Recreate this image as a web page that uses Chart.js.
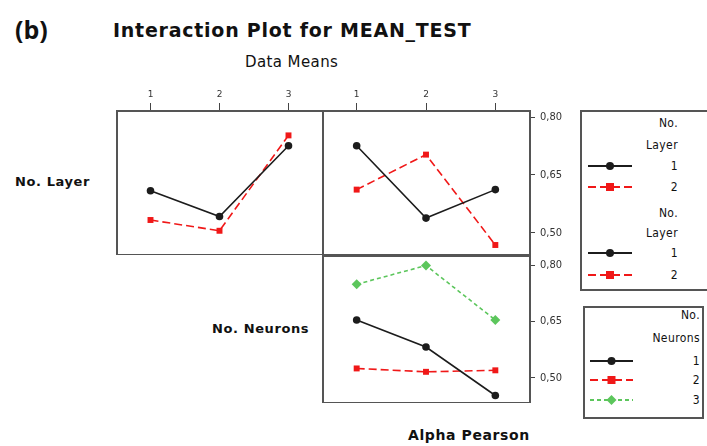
<!DOCTYPE html>
<html>
<head>
<meta charset="utf-8">
<script src="https://cdn.jsdelivr.net/npm/chart.js@4.4.1/dist/chart.umd.min.js"></script>
<style>
  html, body { margin: 0; padding: 0; background: #fff; }
  body { width: 707px; height: 446px; position: relative; overflow: hidden; font-family: "DejaVu Sans", sans-serif; color: #111; }
  .abs { position: absolute; white-space: nowrap; }
  .panel { position: absolute; }
  .lbl { font-weight: bold; font-size: 13px; line-height: 14px; letter-spacing: 0.6px; }
  .box { position: absolute; border: 2px solid #555; box-sizing: border-box; }
  .lg { position: absolute; font-size: 12px; line-height: 14px; text-align: right; letter-spacing: 0.4px; font-family: "DejaVu Sans Condensed", "DejaVu Sans"; }
</style>
</head>
<body>
<div class="abs" style="left:15px;top:13px;font-size:25px;font-weight:bold;font-family:'Open Sans';line-height:32px;">(b)</div>
<div class="abs" style="left:113px;top:17px;font-size:19px;font-weight:bold;letter-spacing:0.75px;line-height:26px;">Interaction Plot for MEAN_TEST</div>
<div class="abs" style="left:245px;top:53px;font-size:15px;letter-spacing:0.4px;line-height:18px;">Data Means</div>
<div class="abs lbl" style="left:15px;top:175px;">No. Layer</div>
<div class="abs lbl" style="left:212px;top:322px;">No. Neurons</div>
<div class="abs lbl" style="left:408px;top:428px;font-size:14px;">Alpha Pearson</div>

<div class="panel" style="left:116px;top:80px;width:207px;height:175px;"><canvas id="c1"></canvas></div>
<div class="panel" style="left:322px;top:80px;width:258px;height:175px;"><canvas id="c2"></canvas></div>
<div class="panel" style="left:322px;top:255px;width:258px;height:148px;"><canvas id="c3"></canvas></div>

<div class="box" style="left:580px;top:110px;width:140px;height:181px;"></div>
<div class="box" style="left:583px;top:306px;width:121px;height:113px;"></div>
<div id="legends"></div>

<script>
// Level of the x factor (1, 2, 3)
var xLevels = [1, 2, 3];

// Row 1: lines = No. Layer
var layer1VsNeurons = [0.609, 0.542, 0.726];
var layer2VsNeurons = [0.533, 0.505, 0.753];
var layer1VsAlpha = [0.726, 0.538, 0.612];
var layer2VsAlpha = [0.612, 0.703, 0.468];

// Row 2: lines = No. Neurons
var neurons1VsAlpha = [0.654, 0.582, 0.453];
var neurons2VsAlpha = [0.525, 0.516, 0.520];
var neurons3VsAlpha = [0.749, 0.799, 0.654];

var yTicks = [0.50, 0.65, 0.80];
var layerLevels = ["1", "2"];
var neuronLevels = ["1", "2", "3"];

var BLACK = "#1c1c1c", RED = "#f01818", GREEN = "#5cc65c";

function pts(ys) {
  return xLevels.map(function(x, i) { return { x: x, y: ys[i] }; });
}

var styles = {
  black: { borderColor: BLACK, backgroundColor: BLACK, borderWidth: 1.6, pointStyle: "circle", pointRadius: 3.8 },
  red: { borderColor: RED, backgroundColor: RED, borderWidth: 1.6, borderDash: [8, 4], pointStyle: "rect", pointRadius: 4.2 },
  green: { borderColor: GREEN, backgroundColor: GREEN, borderWidth: 1.6, borderDash: [4, 3], pointStyle: "rectRot", pointRadius: 5 }
};

function ds(ys, st) {
  var d = { data: pts(ys), tension: 0, pointBorderWidth: 0 };
  for (var k in styles[st]) d[k] = styles[st][k];
  d.pointBackgroundColor = d.backgroundColor;
  return d;
}

// frame round each panel
var framePlugin = {
  id: "frame",
  afterDatasetsDraw: function(chart) {
    var a = chart.chartArea, c = chart.ctx;
    c.save();
    c.strokeStyle = "#555";
    c.lineWidth = 2;
    c.strokeRect(a.left + 1, a.top + 1, a.right - a.left - 1, a.bottom - a.top - 1);
    c.restore();
  }
};

function xScale(show) {
  return {
    type: "linear", position: "top", min: 0.5, max: 3.5, display: show,
    afterBuildTicks: function(s) { s.ticks = xLevels.map(function(v) { return { value: v }; }); },
    afterFit: function(s) {
      s.height = show ? 30 : 0;
      s.paddingLeft = 0; s.paddingRight = 0;
    },
    grid: { drawOnChartArea: false, tickLength: 7, color: "#444", lineWidth: 1 },
    border: { display: false },
    ticks: { font: { size: 9, family: "DejaVu Sans" }, color: "#333", padding: 3 }
  };
}

function yScale(show, min, max) {
  return {
    type: "linear", position: "right", min: min, max: max, display: show,
    afterBuildTicks: function(s) { s.ticks = yTicks.map(function(v) { return { value: v }; }); },
    afterFit: function(s) {
      s.width = show ? 50 : 0;
      s.paddingTop = 0; s.paddingBottom = 0;
    },
    grid: { drawOnChartArea: false, tickLength: 5, color: "#444", lineWidth: 1 },
    border: { display: false },
    ticks: {
      font: { size: 11, family: "DejaVu Sans Condensed" }, color: "#333", padding: 5,
      callback: function(v) { return v.toFixed(2).replace(".", ","); }
    }
  };
}

function makeChart(id, datasets, showX, showY, yMin, yMax) {
  return new Chart(document.getElementById(id), {
    type: "line",
    data: { datasets: datasets },
    options: {
      responsive: true, maintainAspectRatio: false, animation: false,
      layout: { padding: 0, autoPadding: false },
      plugins: { legend: { display: false }, tooltip: { enabled: false } },
      scales: { x: xScale(showX), y: yScale(showY, yMin, yMax) }
    },
    plugins: [framePlugin]
  });
}

makeChart("c1", [ds(layer1VsNeurons, "black"), ds(layer2VsNeurons, "red")], true, false, 0.442, 0.819);
makeChart("c2", [ds(layer1VsAlpha, "black"), ds(layer2VsAlpha, "red")], true, true, 0.442, 0.819);
makeChart("c3", [ds(neurons1VsAlpha, "black"), ds(neurons2VsAlpha, "red"), ds(neurons3VsAlpha, "green")], false, true, 0.433, 0.827);

// legends (HTML)
var svgNS = "http://www.w3.org/2000/svg";
var holder = document.getElementById("legends");
function text(str, right, cy) {
  var d = document.createElement("div");
  d.className = "lg";
  d.style.right = (707 - right) + "px";
  d.style.top = (cy - 7) + "px";
  d.textContent = str;
  holder.appendChild(d);
}
function symbol(st, x0, x1, cy) {
  var s = styles[st];
  var svg = document.createElementNS(svgNS, "svg");
  svg.setAttribute("width", x1 - x0 + 4);
  svg.setAttribute("height", 14);
  svg.style.position = "absolute";
  svg.style.left = (x0 - 2) + "px";
  svg.style.top = (cy - 7) + "px";
  var ln = document.createElementNS(svgNS, "line");
  ln.setAttribute("x1", 2); ln.setAttribute("x2", x1 - x0 + 2);
  ln.setAttribute("y1", 7); ln.setAttribute("y2", 7);
  ln.setAttribute("stroke", s.borderColor); ln.setAttribute("stroke-width", 2);
  if (s.borderDash) ln.setAttribute("stroke-dasharray", s.borderDash.join(" "));
  svg.appendChild(ln);
  var mx = (x1 - x0) / 2 + 2, m;
  if (s.pointStyle === "circle") {
    m = document.createElementNS(svgNS, "circle");
    m.setAttribute("cx", mx); m.setAttribute("cy", 7); m.setAttribute("r", 4);
  } else if (s.pointStyle === "rect") {
    m = document.createElementNS(svgNS, "rect");
    m.setAttribute("x", mx - 4); m.setAttribute("y", 3); m.setAttribute("width", 8); m.setAttribute("height", 8);
  } else {
    m = document.createElementNS(svgNS, "polygon");
    m.setAttribute("points", [mx, 2, mx + 5, 7, mx, 12, mx - 5, 7].join(" "));
  }
  m.setAttribute("fill", s.backgroundColor);
  svg.appendChild(m);
  holder.appendChild(svg);
}

var colorsByLevel = ["black", "red", "green"];
// box 1: two No. Layer legends
[[123, 145, [166, 187]], [213, 233, [253, 275]]].forEach(function(g) {
  text("No.", 678, g[0]);
  text("Layer", 678, g[1]);
  layerLevels.forEach(function(lv, i) {
    symbol(colorsByLevel[i], 588, 632, g[2][i]);
    text(lv, 678, g[2][i]);
  });
});
// box 2: No. Neurons
text("No.", 700, 315);
text("Neurons", 700, 338);
var nY = [361, 380, 400];
neuronLevels.forEach(function(lv, i) {
  symbol(colorsByLevel[i], 590, 633, nY[i]);
  text(lv, 700, nY[i]);
});
</script>
</body>
</html>
